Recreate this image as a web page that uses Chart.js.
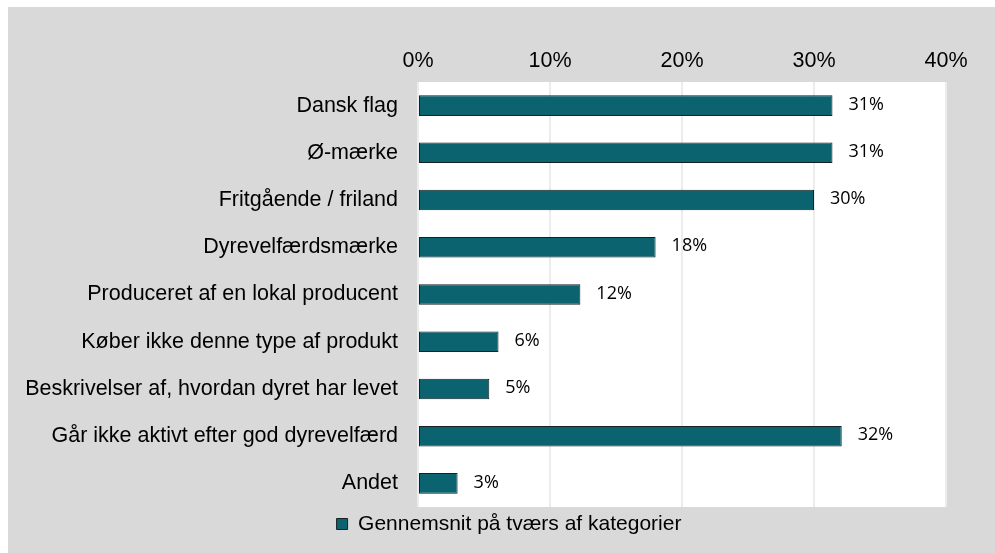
<!DOCTYPE html>
<html>
<head>
<meta charset="utf-8">
<script src="https://cdn.jsdelivr.net/npm/chart.js@4.4.0/dist/chart.umd.min.js"></script>
<style>
  html, body { margin: 0; padding: 0; background: #fff; }
  #wrap { position: absolute; left: 8px; top: 7px; width: 987px; height: 546px; background: #d9d9d9; }
  canvas { display: block; }
</style>
</head>
<body>
<div id="wrap"><canvas id="chart" width="987" height="546"></canvas></div>
<script>
// data
const categories = [
  "Dansk flag",
  "Ø-mærke",
  "Fritgående / friland",
  "Dyrevelfærdsmærke",
  "Produceret af en lokal producent",
  "Køber ikke denne type af produkt",
  "Beskrivelser af, hvordan dyret har levet",
  "Går ikke aktivt efter god dyrevelfærd",
  "Andet"
];
const averageValues = [31.4, 31.4, 30.0, 18.0, 12.3, 6.1, 5.4, 32.1, 3.0];
const seriesName = "Gennemsnit på tværs af kategorier";
const xTicks = [0, 10, 20, 30, 40];

const axisFont = { family: "'Liberation Sans', Arial, sans-serif", size: 21.5 };
const legendFont = { family: "'Liberation Sans', Arial, sans-serif", size: 21 };

// white plot area on the grey background
const plotBackground = {
  id: 'plotBackground',
  beforeDraw(chart) {
    const { ctx, chartArea } = chart;
    ctx.save();
    ctx.fillStyle = '#ffffff';
    ctx.fillRect(chartArea.left, chartArea.top, chartArea.right - chartArea.left, chartArea.bottom - chartArea.top);
    ctx.restore();
  }
};

// value labels after the bar ends
const valueLabels = {
  id: 'valueLabels',
  afterDatasetsDraw(chart) {
    const { ctx } = chart;
    const meta = chart.getDatasetMeta(0);
    ctx.save();
    ctx.font = "18px 'Open Sans', 'Noto Sans', sans-serif";
    ctx.fillStyle = '#000';
    ctx.textAlign = 'left';
    ctx.textBaseline = 'middle';
    meta.data.forEach((bar, i) => {
      const v = chart.data.datasets[0].data[i];
      ctx.fillText(Math.round(v) + '%', bar.x + 16, bar.y - 1);
    });
    ctx.restore();
  }
};

// nudge the legend to the right, like the original
const legendShift = {
  id: 'legendShift',
  afterLayout(chart) {
    if (chart.legend) {
      chart.legend.left += 32;
      chart.legend.right += 32;
    }
  }
};

new Chart(document.getElementById('chart'), {
  type: 'bar',
  data: {
    labels: categories,
    datasets: [{
      label: seriesName,
      data: averageValues,
      backgroundColor: '#0b6370',
      borderColor: '#142022',
      borderWidth: 1,
      borderSkipped: false,
      categoryPercentage: 1,
      barPercentage: 0.435
    }]
  },
  options: {
    indexAxis: 'y',
    responsive: false,
    animation: false,
    layout: {
      padding: { left: 0, top: 0, right: 49, bottom: 8.5 }
    },
    scales: {
      x: {
        position: 'top',
        min: 0,
        max: 40,
        afterBuildTicks(scale) {
          scale.ticks = xTicks.map(v => ({ value: v }));
        },
        afterFit(scale) { scale.height = 75; },
        ticks: {
          padding: 8,
          color: '#000',
          font: axisFont,
          callback: v => v + '%'
        },
        grid: { color: '#ececec', lineWidth: 2, drawTicks: false },
        border: { display: false }
      },
      y: {
        afterFit(scale) { scale.width = 410; },
        ticks: {
          padding: 20,
          color: '#000',
          font: axisFont
        },
        grid: { display: false, drawTicks: false },
        border: { display: false }
      }
    },
    plugins: {
      legend: {
        position: 'bottom',
        labels: {
          boxWidth: 11,
          boxHeight: 11,
          padding: 6.5,
          color: '#000',
          font: legendFont
        }
      },
      tooltip: { enabled: false }
    }
  },
  plugins: [plotBackground, valueLabels, legendShift]
});
</script>
</body>
</html>
